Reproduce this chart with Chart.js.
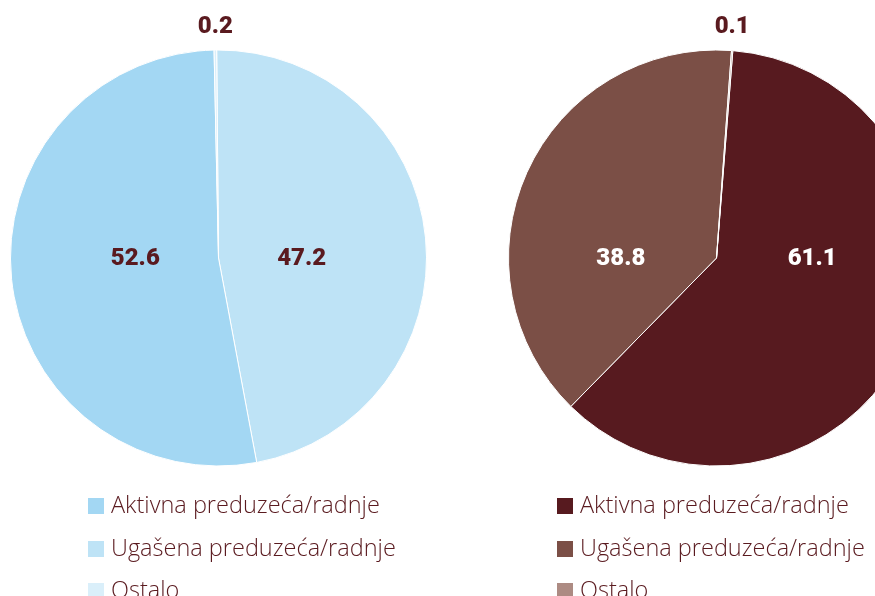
<html>
<head>
	<meta charset="utf-8">
	<title>Preduzeća/radnje</title>
	<script src="https://cdn.jsdelivr.net/npm/chart.js"></script>
	<style>
		html, body { margin: 0; padding: 0; background: #fff; overflow: hidden; width: 875px; height: 596px; }
		.pie { position: absolute; top: 0; width: 437px; height: 515px; }
		.legend { position: absolute; top: 488px; font-family: "Open Sans", sans-serif; font-weight: 300; font-size: 23.5px; color: #5a1a1f; }
		.legend div { height: 42.5px; display: flex; align-items: flex-start; white-space: nowrap; }
		.legend span.box { display: inline-block; width: 16px; height: 16px; margin: 10px 7px 0 0; }
	</style>
</head>
<body>
	<div class="pie" style="left:0px"><canvas id="pieLeft"></canvas></div>
	<div class="pie" style="left:498px"><canvas id="pieRight"></canvas></div>
	<div class="legend" id="legendLeft" style="left:88px"></div>
	<div class="legend" id="legendRight" style="left:557px"></div>
</body>
<script>
    // podaci (%)
    const categories = ['Aktivna preduzeća/radnje', 'Ugašena preduzeća/radnje', 'Ostalo'];
    const leftValues = [52.6, 47.2, 0.2];
    const rightValues = [61.1, 38.8, 0.1];

    const leftColors = ['#a3d7f3', '#bee3f6', '#daeffa'];
    const rightColors = ['#571a1f', '#7b4f46', '#ad8b83'];

    // redosled crtanja u smeru kazaljke
    const leftOrder = [1, 0, 2];
    const rightOrder = [0, 1, 2];

    const labelPlugin = {
        id: 'sliceLabels',
        afterDatasetsDraw(chart, args, opts) {
            const ctx = chart.ctx;
            const meta = chart.getDatasetMeta(0);
            const values = chart.data.datasets[0].data;
            ctx.save();
            ctx.font = '900 24px Roboto, sans-serif';
            ctx.textAlign = 'center';
            ctx.textBaseline = 'middle';
            meta.data.forEach((arc, i) => {
                const p = arc.getProps(['x', 'y', 'startAngle', 'endAngle', 'outerRadius']);
                const mid = (p.startAngle + p.endAngle) / 2;
                const v = values[i];
                let x, y;
                if (v < 1) {
                    x = p.x + p.outerRadius * Math.cos(mid);
                    y = 27;
                    ctx.fillStyle = '#5a1a1f';
                } else {
                    x = p.x + Math.sign(Math.cos(mid)) * opts.offset * p.outerRadius;
                    y = p.y + 1;
                    ctx.fillStyle = opts.inside;
                }
                ctx.fillText(v.toFixed(1), x, y);
            });
            ctx.restore();
        }
    };

    const makePie = (id, values, colors, order, rotation, offset, inside) => {
        new Chart(document.getElementById(id), {
            type: 'pie',
            data: {
                labels: order.map(i => categories[i]),
                datasets: [{
                    data: order.map(i => values[i]),
                    backgroundColor: order.map(i => colors[i]),
                    borderColor: '#ffffff',
                    borderWidth: 1
                }]
            },
            options: {
                responsive: false,
                animation: false,
                rotation,
                layout: { padding: { top: 49, bottom: 48, left: 10, right: 10 } },
                plugins: {
                    legend: { display: false },
                    tooltip: { enabled: false },
                    sliceLabels: { offset, inside }
                }
            },
            plugins: [labelPlugin]
        });
    };

    const sizeCanvas = (id) => {
        const c = document.getElementById(id);
        c.width = 437;
        c.height = 515;
        c.style.width = '437px';
        c.style.height = '515px';
    };

    const makeLegend = (id, colors) => {
        let html = '';
        categories.forEach((name, i) => {
            html += `<div><span class="box" style="background:${colors[i]}"></span>${name}</div>`;
        });
        document.getElementById(id).innerHTML = html;
    };

    sizeCanvas('pieLeft');
    sizeCanvas('pieRight');
    makePie('pieLeft', leftValues, leftColors, leftOrder, -0.5, 0.4, '#5a1a1f');
    makePie('pieRight', rightValues, rightColors, rightOrder, 4.5, 0.46, '#ffffff');
    makeLegend('legendLeft', leftColors);
    makeLegend('legendRight', rightColors);
</script>
</html>
